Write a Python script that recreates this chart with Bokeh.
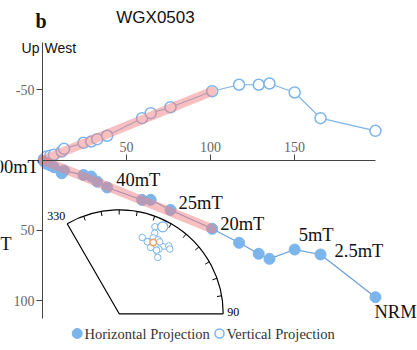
import numpy as np
from bokeh.plotting import figure
from bokeh.models import Range1d, LinearAxis, FixedTicker
from bokeh.core.properties import value
from bokeh.embed import file_html
from bokeh.resources import INLINE

# ---- data: AF demagnetisation of WGX0503, highest field first, NRM last ----
north = [0.8, 2.4, 4.6, 6.8, 11.4, 12.8, 24.4, 29.0, 32.6, 38.5,
         59.3, 64.4, 76.2, 101.0, 117.0, 128.7, 135.1, 150.1, 165.5, 198.2]
east = [0.8, 2.6, 3.6, 5.0, 9.3, 7.5, 10.5, 11.6, 15.3, 19.4,
        28.3, 28.2, 35.4, 48.8, 58.8, 66.6, 70.2, 63.6, 67.1, 97.5]
vert = [-0.5, -2.6, -3.2, -3.8, -6.2, -8.1, -12.4, -13.3, -15.0, -17.4,
        -29.9, -33.5, -37.7, -49.1, -53.7, -53.7, -54.6, -48.2, -29.9, -20.9]

# step labels and the index of the step each one marks
label_text = ["100mT", "40mT", "25mT", "20mT", "5mT", "2.5mT", "NRM"]
label_index = [0, 9, 12, 13, 17, 18, 19]

# principal-component fit through the origin (20-100 mT)
fit_north = [0.0, 101.0]
fit_east = [0.0, 48.8]
fit_vert = [0.0, -49.1]

x_ticks = [50, 100, 150]
y_ticks = [-50, 50, 100]

# equal-area inset: declination / inclination of each step
inset_dec = [26.6, 22.3, 23.8, 24.1, 27.8, 16.8, 21.3, 29.4, 36.1, 38.0, 31.5, 30.4, 25.3, 34.4]
inset_inc = [5.8, 8.6, 13.7, 18.0, 17.6, 21.0, 23.1, 18.5, 17.2, 18.9, 24.3, 26.1, 26.5, 30.9]
mean_dec = [25.5]
mean_inc = [21.6]
sector_ticks = [330, 90]

# ---- layout ----
W, H = 417, 350
X0, Y0 = 42.0, 159.7      # pixel position of the diagram origin
SX, SY = 1.68, 1.405      # pixels per unit along each axis
BLUE = "#7cb5ec"
SERIF = "Liberation Serif"
SANS = "Liberation Sans"

p = figure(width=W, height=H,
           x_range=Range1d(-X0 / SX, (W - X0) / SX),
           y_range=Range1d((H - Y0) / SY, -Y0 / SY),
           x_axis_location=None, y_axis_location=None,
           toolbar_location=None, output_backend="svg",
           min_border=0, outline_line_color=None)
p.grid.visible = False
p.extra_x_ranges = {"px": Range1d(0, W)}
p.extra_y_ranges = {"px": Range1d(0, H)}
PX = dict(x_range_name="px", y_range_name="px")

xaxis = LinearAxis(fixed_location=0, bounds=(0, max(north)),
                   ticker=FixedTicker(ticks=x_ticks))
yaxis = LinearAxis(fixed_location=0, bounds=(-84, 113),
                   ticker=FixedTicker(ticks=y_ticks))
yaxis.major_label_overrides = {t: "%d" % t for t in y_ticks}
for ax in (xaxis, yaxis):
    ax.axis_line_color = "#444444"
    ax.major_tick_line_color = "#444444"
    ax.major_tick_out = 6
    ax.major_tick_in = 0
    ax.minor_tick_out = 0
    ax.minor_tick_in = 0
    ax.major_label_text_font = SERIF
    ax.major_label_text_font_size = "14px"
    ax.major_label_text_color = "#666666"
    ax.major_label_standoff = 2
p.add_layout(xaxis, "above")
p.add_layout(yaxis, "left")

# vertical projection: hollow circles
p.line(north, vert, line_color=BLUE, line_width=1.2)
p.scatter(north, vert, size=11, fill_color="white", line_color=BLUE, line_width=1.5)

# horizontal projection: filled circles
p.line(north, east, line_color="#6a9fd8", line_width=1.2)
p.scatter(north, east, size=11, fill_color=BLUE, line_color=BLUE)

# fitted component
band = dict(line_color="#f08080", line_alpha=0.5, line_width=9, line_cap="round")
p.line(fit_north, fit_east, **band)
p.line(fit_north, fit_vert, **band)

# step labels
offsets = {"100mT": (-5, 6, "right"), "40mT": (9, -7, "left"), "25mT": (8, -7, "left"),
           "20mT": (8, -5, "left"), "5mT": (4, -15, "left"), "2.5mT": (14, -3, "left"),
           "NRM": (-1, 15, "left")}
for txt, i in zip(label_text, label_index):
    dx, dy, align = offsets[txt]
    p.text(x=[north[i]], y=[east[i]], text=[txt], x_offset=dx, y_offset=dy,
           text_align=align, text_baseline="middle", text_color="#111111",
           text_font=value(SERIF), text_font_size="18.5px")

# ---- equal-area inset ----
CX, CY, R = 118.7, H - 313.3, 104.0


def polar(dec, frac):
    d = np.radians(np.asarray(dec, dtype=float))
    f = np.asarray(frac, dtype=float)
    return CX + f * R * np.sin(d), CY + f * R * np.cos(d)


a0, a1 = sector_ticks
ex, ey = polar([a0], [1.0])
p.arc(x=[CX], y=[CY], radius=R, start_angle=0.0, end_angle=np.radians(90 - a0 + 360),
      direction="anticlock", line_color="black", line_width=1.2, **PX)
p.line([ex[0], CX, CX + R], [ey[0], CY, CY], line_color="black", line_width=1.2, **PX)
tick_dec = np.arange(a0 + 10, a1 + 360, 10) % 360
tx0, ty0 = polar(tick_dec, np.ones(len(tick_dec)))
tx1, ty1 = polar(tick_dec, np.full(len(tick_dec), 0.955))
p.segment(tx0, ty0, tx1, ty1, line_color="black", line_width=1, **PX)
p.text(x=[ex[0]], y=[ey[0]], text=[str(a0)], x_offset=-2, y_offset=-8,
       text_align="right", text_baseline="middle", text_font=value(SERIF),
       text_font_size="12px", text_color="black", **PX)
p.text(x=[CX + R], y=[CY], text=[str(a1)], x_offset=4, y_offset=-2,
       text_align="left", text_baseline="middle", text_font=value(SERIF),
       text_font_size="12px", text_color="black", **PX)

ix, iy = polar(inset_dec, (90 - np.asarray(inset_inc)) / 90)
p.line(ix, iy, line_color=BLUE, line_width=1, **PX)
p.scatter(ix[1:], iy[1:], size=6.5, fill_color="white", line_color=BLUE, line_width=1, **PX)
p.scatter(ix[:1], iy[:1], size=10, fill_color="white", line_color=BLUE, line_width=1.2, **PX)
mx, my = polar(mean_dec, (90 - np.asarray(mean_inc)) / 90)
p.scatter(mx, my, size=6.5, fill_color="white", line_color="#f7a35c", line_width=1.5, **PX)

# ---- titles, axis direction notes and legend ----
def txt(x, y, s, size, font=SERIF, align="left", style="normal", color="#111111"):
    p.text(x=[x], y=[H - y], text=[s], text_align=align, text_baseline="middle",
           text_font=value(font), text_font_size=size, text_font_style=style,
           text_color=color, **PX)


txt(40.5, 20, "b", "20px", align="center", style="bold")
txt(155, 17, "WGX0503", "17px", font=SANS, align="center")
txt(39, 47.5, "Up", "14px", font=SANS, align="right")
txt(44, 47.5, "West", "14px", font=SANS)
txt(11, 243, "mT", "18.5px", align="right")

p.scatter([76.7], [H - 333], size=10, fill_color=BLUE, line_color=BLUE, **PX)
p.scatter([219.0], [H - 333], size=9, fill_color="white", line_color=BLUE,
          line_width=1.5, **PX)
txt(84, 333, "Horizontal Projection", "14.5px", color="#333333")
txt(226, 333, "Vertical Projection", "14.5px", color="#333333")

open("out.html", "w").write(file_html(p, INLINE))
